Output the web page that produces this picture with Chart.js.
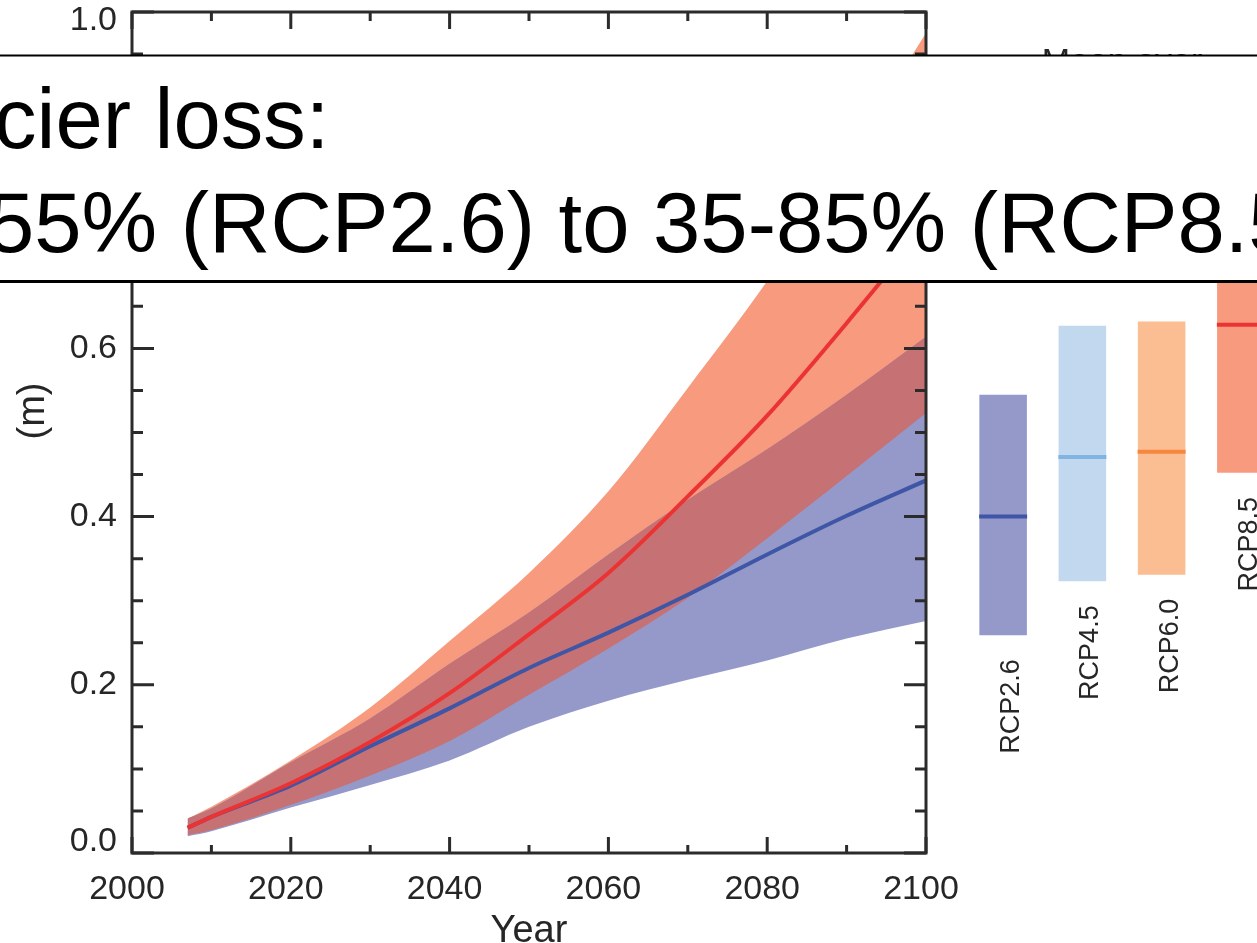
<!DOCTYPE html>
<html>
<head>
<meta charset="utf-8">
<title>Sea level rise projections</title>
<script src="https://cdn.jsdelivr.net/npm/chart.js@4.4.1/dist/chart.umd.min.js"></script>
<style>
  html, body { margin: 0; padding: 0; background: #fff; overflow: hidden; }
  #wrap { position: relative; width: 1257px; height: 943px; overflow: hidden; }
  #wrap canvas { position: absolute; left: 0; top: 0; }
</style>
</head>
<body>
<div id="wrap">
  <canvas id="series" width="1257" height="943"></canvas>
  <canvas id="bars" width="1300" height="943"></canvas>
</div>
<script>
// Projected global mean sea level rise (m), 5–95 % ranges and medians
const years = [2007, 2010, 2020, 2030, 2040, 2050, 2060, 2070, 2080, 2090, 2100];

const rcp26Median = [0.030, 0.043, 0.080, 0.127, 0.172, 0.220, 0.262, 0.307, 0.355, 0.401, 0.443];
const rcp26Low    = [0.020, 0.026, 0.054, 0.081, 0.110, 0.150, 0.181, 0.206, 0.229, 0.255, 0.276];
const rcp26High   = [0.041, 0.053, 0.108, 0.160, 0.225, 0.286, 0.355, 0.420, 0.480, 0.545, 0.614];

const rcp85Median = [0.030, 0.043, 0.083, 0.132, 0.190, 0.260, 0.333, 0.424, 0.520, 0.630, 0.745];
const rcp85Low    = [0.021, 0.027, 0.057, 0.092, 0.133, 0.188, 0.243, 0.303, 0.374, 0.448, 0.523];
const rcp85High   = [0.041, 0.055, 0.110, 0.173, 0.252, 0.333, 0.430, 0.553, 0.680, 0.825, 0.975];

// Mean over 2081–2100 per scenario
const scenarios  = ['RCP2.6', 'RCP4.5', 'RCP6.0', 'RCP8.5'];
const meanLow    = [0.259, 0.323, 0.331, 0.452];
const meanMedian = [0.400, 0.471, 0.477, 0.628];
const meanHigh   = [0.545, 0.627, 0.632, 0.820];

const xTickValues = [2000, 2020, 2040, 2060, 2080, 2100];
const yTickValues = [0.0, 0.2, 0.4, 0.6, 0.8, 1.0];

const headline = ['cier loss:', '55% (RCP2.6) to 35-85% (RCP8.5'];
const xTitle = 'Year';
const yTitle = '(m)';
const barCaption = 'Mean over';

// ---- styling ----
const FONT = '"Liberation Sans", Arial, Helvetica, sans-serif';
const AXIS = '#2b2b2b';
const TEXT = '#262626';
const RED_LINE = '#ec3333';
const BLUE_LINE = '#3f56a6';
const RED_BAND = '#f79a7e';
const BLUE_BAND = '#9499ca';
const BOTH_BAND = '#c67274';
const barColors = ['#9499ca', '#c2d8ef', '#fbbd92', '#f79a7e'];
const medianColors = ['#3f56a6', '#80b4e2', '#f5883e', '#ec3333'];

const pts = arr => years.map((yr, i) => ({ x: yr, y: arr[i] }));
// Intersection of the two ranges, drawn in its own tint
const bothHigh = rcp26High.map((v, i) => Math.min(v, rcp85High[i]));
const bothLow  = rcp26Low.map((v, i) => Math.max(v, rcp85Low[i]));

const common = {
  cubicInterpolationMode: 'monotone',
  pointRadius: 0,
  pointHoverRadius: 0
};

// Box frame with inward major/minor ticks on all four sides
const framePlugin = {
  id: 'frame',
  afterDatasetsDraw(chart) {
    const { ctx, chartArea: a } = chart;
    const x = chart.scales.x, y = chart.scales.y;
    ctx.save();
    ctx.strokeStyle = AXIS;
    ctx.lineWidth = 3;
    ctx.beginPath();
    for (let yr = 2000; yr <= 2100; yr += 10) {
      const px = x.getPixelForValue(yr);
      const major = yr % 20 === 0;
      ctx.moveTo(px, a.bottom); ctx.lineTo(px, a.bottom - (major ? 16 : 8));
      ctx.moveTo(px, a.top);    ctx.lineTo(px, a.top + (major ? 17 : 9));
    }
    for (let i = 0; i <= 20; i++) {
      const py = y.getPixelForValue(i * 0.05);
      const len = i % 4 === 0 ? 22 : 11;
      ctx.moveTo(a.left, py);  ctx.lineTo(a.left + len, py);
      ctx.moveTo(a.right, py); ctx.lineTo(a.right - len, py);
    }
    ctx.stroke();
    ctx.lineJoin = 'miter';
    ctx.strokeRect(a.left, a.top, a.right - a.left, a.bottom - a.top);
    ctx.restore();
  },
  afterDraw(chart) {
    const { ctx } = chart;
    ctx.save();
    ctx.fillStyle = TEXT;
    ctx.font = '38px ' + FONT;
    ctx.textAlign = 'center';
    ctx.textBaseline = 'alphabetic';
    ctx.translate(44, 411);
    ctx.rotate(-Math.PI / 2);
    ctx.fillText(yTitle, 0, 0);
    ctx.restore();
  }
};

const noEdgePadding = s => { s.paddingTop = 0; s.paddingBottom = 0; s.paddingLeft = 0; s.paddingRight = 0; };

new Chart(document.getElementById('series'), {
  type: 'line',
  data: {
    datasets: [
      { ...common, label: 'RCP8.5', data: pts(rcp85Median), borderColor: RED_LINE, borderWidth: 4, fill: false, order: 0 },
      { ...common, label: 'RCP2.6', data: pts(rcp26Median), borderColor: BLUE_LINE, borderWidth: 4, fill: false, order: 1 },
      { ...common, label: 'both high', data: pts(bothHigh), borderWidth: 0, borderColor: 'rgba(0,0,0,0)',
        fill: { target: 3, above: BOTH_BAND, below: 'rgba(0,0,0,0)' }, order: 2 },
      { ...common, label: 'both low', data: pts(bothLow), borderWidth: 0, borderColor: 'rgba(0,0,0,0)', fill: false, order: 3 },
      { ...common, label: 'RCP2.6 high', data: pts(rcp26High), borderWidth: 0, borderColor: 'rgba(0,0,0,0)',
        fill: { target: 5, above: BLUE_BAND, below: BLUE_BAND }, order: 4 },
      { ...common, label: 'RCP2.6 low', data: pts(rcp26Low), borderWidth: 0, borderColor: 'rgba(0,0,0,0)', fill: false, order: 5 },
      { ...common, label: 'RCP8.5 high', data: pts(rcp85High), borderWidth: 0, borderColor: 'rgba(0,0,0,0)',
        fill: { target: 7, above: RED_BAND, below: RED_BAND }, order: 6 },
      { ...common, label: 'RCP8.5 low', data: pts(rcp85Low), borderWidth: 0, borderColor: 'rgba(0,0,0,0)', fill: false, order: 7 }
    ]
  },
  options: {
    responsive: false,
    animation: false,
    devicePixelRatio: 1,
    events: [],
    layout: { autoPadding: false, padding: { left: 0, right: 331, top: 12, bottom: 0 } },
    plugins: { legend: { display: false }, tooltip: { enabled: false } },
    scales: {
      x: {
        type: 'linear', min: 2000, max: 2100,
        grid: { display: false }, border: { display: false },
        afterBuildTicks: s => { s.ticks = xTickValues.map(v => ({ value: v })); },
        afterFit: s => { s.height = 90; noEdgePadding(s); },
        ticks: {
          color: TEXT, font: { family: FONT, size: 34 }, padding: 8, labelOffset: -5,
          maxRotation: 0, callback: v => String(v)
        },
        title: {
          display: true, text: xTitle, color: TEXT,
          font: { family: FONT, size: 38, lineHeight: 0.6 }, padding: { top: 0, bottom: 0 }
        }
      },
      y: {
        type: 'linear', min: 0, max: 1,
        grid: { display: false }, border: { display: false },
        afterBuildTicks: s => { s.ticks = yTickValues.map(v => ({ value: v })); },
        afterFit: s => { s.width = 132; noEdgePadding(s); },
        ticks: {
          color: TEXT, padding: 7,
          font: c => ({
            family: FONT, size: 34,
            lineHeight: c.tick && c.tick.value === 0 ? '22px' : (c.tick && c.tick.value === 1 ? '18px' : 1.2)
          }),
          // end labels are nudged inward, away from the corners
          callback: v => v === 0 ? [v.toFixed(1), ''] : (v === 1 ? ['', v.toFixed(1)] : v.toFixed(1))
        }
      }
    }
  },
  plugins: [framePlugin]
});

// Scenario labels under each range bar, the caption, and the headline band
const barTextPlugin = {
  id: 'barText',
  afterDatasetsDraw(chart) {
    const { ctx } = chart;
    const meta = chart.getDatasetMeta(1);
    ctx.save();
    ctx.fillStyle = TEXT;
    ctx.font = '27px ' + FONT;
    ctx.textAlign = 'right';
    ctx.textBaseline = 'alphabetic';
    meta.data.forEach((bar, i) => {
      ctx.save();
      ctx.translate(bar.x + 16, bar.base + 24);
      ctx.rotate(-Math.PI / 2);
      ctx.fillText(scenarios[i], 0, 0);
      ctx.restore();
    });
    ctx.restore();
  },
  afterDraw(chart) {
    const { ctx } = chart;
    const W = chart.width;
    ctx.save();
    ctx.fillStyle = TEXT;
    ctx.font = '34px ' + FONT;
    ctx.textAlign = 'center';
    ctx.textBaseline = 'alphabetic';
    ctx.fillText(barCaption, 1122, 71.5);

    ctx.fillStyle = '#ffffff';
    ctx.fillRect(0, 55, W, 226);
    ctx.fillStyle = '#000000';
    ctx.fillRect(0, 54.5, W, 2);
    ctx.fillRect(0, 280, W, 3);

    ctx.font = '85px ' + FONT;
    ctx.textAlign = 'left';
    ctx.fillText(headline[0], -6, 148);
    ctx.fillText(headline[1], -13, 252);
    ctx.restore();
  }
};

new Chart(document.getElementById('bars'), {
  type: 'bar',
  data: {
    labels: scenarios,
    datasets: [
      {
        type: 'line', data: meanMedian, showLine: false,
        pointStyle: 'line', pointRadius: 24, pointHoverRadius: 24,
        pointBorderWidth: 4, pointBorderColor: medianColors, order: 0
      },
      {
        type: 'bar', data: scenarios.map((_, i) => [meanLow[i], meanHigh[i]]),
        backgroundColor: barColors, borderWidth: 0,
        barPercentage: 0.6, categoryPercentage: 1, order: 1
      }
    ]
  },
  options: {
    responsive: false,
    animation: false,
    devicePixelRatio: 1,
    events: [],
    layout: { autoPadding: false, padding: { left: 963.5, right: 19.5, top: 12, bottom: 90 } },
    plugins: { legend: { display: false }, tooltip: { enabled: false } },
    scales: {
      x: { display: false },
      y: { display: false, min: 0, max: 1 }
    }
  },
  plugins: [barTextPlugin]
});
</script>
</body>
</html>
